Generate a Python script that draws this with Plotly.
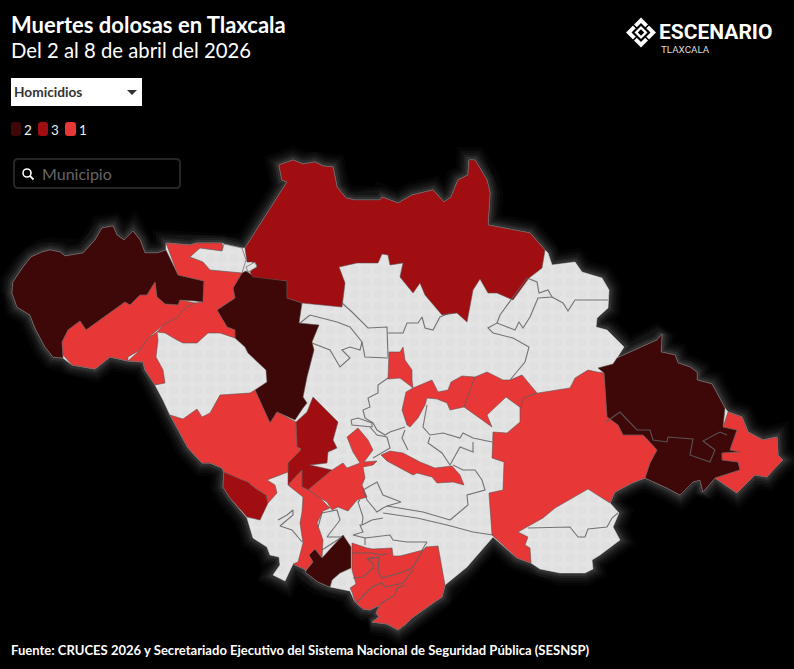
import plotly.graph_objects as go

# municipio outlines, traced in map units, grouped by homicide count
contorno = [(12,293),(13,282),(23,267),(31,257),(42,252),(50,250),(60,252),(65,256),(83,253),(95,240),(102,228),(113,226),(117,235),(124,240),(133,231),(140,240),(145,253),(157,253),(166,250),(166,243),(190,245),(197,243),(222,243),(224,244),(242,248),(245,248),(287,182),(282,180),(279,165),(293,160),(303,164),(315,162),(323,166),(333,167),(337,187),(346,198),(355,200),(380,200),(382,197),(398,203),(412,195),(433,190),(444,202),(451,197),(458,180),(468,175),(469,160),(475,160),(487,180),(490,193),(488,225),(530,233),(545,250),(548,253),(552,265),(575,262),(582,272),(602,278),(609,290),(608,308),(597,318),(596,327),(607,330),(624,347),(617,358),(657,340),(662,334),(661,352),(675,355),(678,363),(690,367),(697,372),(697,380),(712,384),(725,408),(728,412),(742,417),(748,432),(763,440),(777,437),(778,455),(783,460),(773,470),(767,477),(755,475),(737,493),(725,485),(715,478),(703,492),(700,480),(693,482),(680,495),(667,488),(645,478),(632,483),(615,492),(610,503),(619,513),(613,527),(620,540),(600,555),(592,560),(593,569),(585,573),(560,573),(540,569),(531,563),(517,558),(493,537),(477,555),(467,567),(445,585),(442,597),(433,603),(412,618),(407,623),(398,630),(387,624),(372,622),(379,617),(376,613),(380,605),(370,610),(363,609),(355,602),(350,591),(330,587),(318,582),(305,572),(306,570),(293,564),(285,581),(273,575),(280,565),(279,557),(270,555),(267,547),(253,538),(247,518),(230,498),(223,487),(224,472),(222,468),(210,463),(202,463),(188,448),(170,415),(163,400),(155,385),(145,370),(143,362),(128,361),(110,357),(95,369),(72,365),(63,358),(53,357),(45,347),(35,328),(30,315),(17,307),(12,293)]

# dos homicidios
mun_a = [(12,293),(13,282),(23,267),(31,257),(42,252),(50,250),(60,252),(65,256),(83,253),(95,240),(102,228),(113,226),(117,235),(124,240),(133,231),(140,240),(145,253),(157,253),(166,250),(178,275),(204,281),(203,302),(195,301),(180,300),(178,305),(165,304),(157,297),(155,282),(147,295),(140,295),(130,305),(125,302),(86,330),(80,321),(68,330),(62,342),(63,358),(53,357),(45,347),(35,328),(30,315),(17,307),(12,293)]
mun_j = [(242,273),(246,271),(252,275),(287,281),(287,298),(302,303),(299,323),(319,325),(312,342),(314,350),(307,377),(303,397),(307,403),(303,408),(295,420),(277,412),(270,423),(255,390),(267,382),(266,370),(248,353),(245,347),(235,338),(235,330),(227,327),(217,310),(235,298),(233,288),(242,273)]
mun_n = [(598,368),(613,364),(617,358),(657,340),(662,334),(661,352),(675,355),(678,363),(690,367),(697,372),(697,380),(712,384),(725,408),(723,427),(737,430),(730,450),(740,452),(722,453),(722,460),(738,462),(740,470),(715,478),(703,492),(700,480),(693,482),(680,495),(667,488),(645,478),(650,463),(657,450),(643,435),(623,435),(618,425),(607,417),(604,373),(598,368)]
mun_s = [(309,555),(315,549),(322,558),(343,535),(351,547),(351,568),(340,573),(332,580),(330,587),(318,582),(305,572),(313,562),(309,555)]

# tres homicidios
mun_k = [(245,248),(287,182),(282,180),(279,165),(293,160),(303,164),(315,162),(323,166),(333,167),(337,187),(346,198),(355,200),(380,200),(382,197),(398,203),(412,195),(433,190),(444,202),(451,197),(458,180),(468,175),(469,160),(475,160),(487,180),(490,193),(488,225),(530,233),(545,250),(542,268),(529,278),(513,300),(497,293),(488,293),(480,279),(473,290),(467,322),(457,313),(442,315),(425,295),(420,283),(413,293),(400,277),(403,263),(390,265),(388,255),(382,254),(378,263),(370,263),(357,263),(339,267),(345,283),(342,307),(302,303),(287,298),(287,281),(253,277),(250,272),(257,265),(252,262),(247,262),(245,248)]
mun_p = [(313,397),(338,422),(333,440),(337,448),(328,452),(327,463),(310,465),(332,470),(308,490),(302,487),(302,470),(288,485),(288,463),(301,449),(297,447),(296,422),(307,412),(313,397)]
mun_i = [(224,472),(242,480),(248,482),(255,488),(266,495),(268,503),(260,520),(247,517),(230,498),(223,487),(224,472)]

# un homicidio
mun_b = [(155,282),(157,297),(165,304),(178,305),(180,300),(195,303),(185,308),(177,318),(163,325),(148,338),(140,350),(128,357),(128,361),(110,357),(95,369),(72,365),(63,355),(62,342),(68,330),(80,321),(86,330),(125,302),(130,305),(140,295),(147,295),(155,282)]
mun_c = [(166,243),(190,245),(197,243),(222,243),(224,252),(242,273),(233,288),(235,298),(217,310),(227,327),(235,330),(235,338),(220,333),(208,333),(197,343),(183,343),(177,340),(165,333),(157,332),(163,325),(177,318),(185,308),(195,303),(203,302),(204,281),(178,275),(166,243)]
mun_f = [(128,361),(140,350),(148,338),(157,332),(158,340),(156,357),(163,370),(165,383),(155,385),(145,370),(143,362),(128,361)]
mun_h = [(170,415),(183,419),(197,409),(202,417),(210,413),(220,395),(250,393),(255,390),(270,423),(277,412),(296,422),(297,447),(301,450),(288,463),(288,472),(267,480),(275,485),(277,493),(268,503),(266,495),(255,488),(248,482),(242,480),(224,472),(222,468),(210,463),(202,463),(188,448),(170,415)]
mun_l = [(597,372),(588,370),(575,378),(570,388),(538,393),(522,398),(520,407),(520,422),(507,433),(493,432),(492,458),(504,462),(503,490),(489,493),(492,535),(517,558),(531,563),(530,548),(525,545),(528,537),(518,532),(527,527),(535,523),(543,518),(555,508),(572,498),(588,489),(610,503),(615,492),(632,483),(645,478),(650,463),(657,450),(643,435),(623,435),(618,425),(607,417),(604,373),(597,372)]
mun_o = [(728,412),(742,417),(748,432),(763,440),(777,437),(778,455),(783,460),(773,470),(767,477),(755,475),(737,493),(725,485),(715,478),(740,470),(738,462),(722,460),(722,453),(740,452),(730,450),(737,430),(723,427),(728,412)]
mun_q = [(358,428),(368,440),(373,450),(364,462),(377,461),(373,465),(363,467),(365,478),(362,485),(367,497),(357,500),(348,511),(338,507),(332,510),(327,502),(320,498),(308,490),(332,470),(343,463),(347,468),(360,463),(353,452),(347,437),(358,428)]
mun_r = [(288,485),(302,470),(302,487),(308,490),(320,498),(330,508),(323,511),(317,523),(323,540),(322,558),(315,549),(309,555),(313,562),(306,570),(293,564),(298,562),(303,543),(300,523),(302,512),(303,497),(288,485)]
mun_t = [(352,543),(367,548),(373,549),(392,548),(393,556),(400,556),(423,550),(426,547),(438,546),(440,558),(445,585),(442,597),(433,603),(412,618),(407,623),(398,630),(387,624),(372,622),(379,617),(376,613),(380,605),(370,610),(363,609),(355,602),(352,592),(350,588),(356,584),(352,570),(352,543)]
mun_w = [(389,352),(400,352),(403,347),(405,360),(412,370),(412,380),(413,388),(400,378),(388,379),(389,352)]
mun_x = [(406,392),(413,388),(432,380),(438,392),(448,390),(451,382),(462,376),(475,377),(464,407),(450,410),(447,403),(437,399),(427,398),(425,405),(418,418),(410,427),(407,425),(402,410),(406,392)]
mun_y = [(475,377),(487,372),(503,380),(510,380),(522,375),(537,393),(523,398),(521,408),(506,397),(495,408),(487,415),(492,427),(464,407),(475,377)]
mun_aa = [(390,451),(403,453),(420,462),(435,468),(452,466),(460,475),(464,485),(453,482),(437,483),(432,477),(417,473),(413,475),(400,468),(387,461),(381,455),(390,451)]

# gray municipios that sit on top of a colored one
mun_d = [(190,257),(200,248),(222,251),(224,244),(242,248),(246,260),(242,273),(210,270),(203,262),(190,257)]
mun_tab = [(246,267),(255,262),(257,267),(248,272),(246,267)]

nombres_2 = [mun_a, mun_j, mun_n, mun_s]
nombres_3 = [mun_k, mun_p, mun_i]
nombres_1 = [mun_b, mun_c, mun_f, mun_h, mun_l, mun_o, mun_q, mun_r, mun_t, mun_w, mun_x, mun_y, mun_aa]
sin_casos = [mun_d, mun_tab]

# borders between municipios
limites = [
    [(342,303),(352,312),(368,328),(387,327),(388,357)],
    [(388,333),(403,333),(407,323),(418,323),(422,317),(425,328),(433,330),(440,317),(450,313)],
    [(300,323),(310,315),(337,322),(350,327),(362,342),(365,357),(388,358)],
    [(312,343),(330,350),(340,367),(350,358),(342,350),(350,347),(360,350),(362,342)],
    [(388,378),(378,385),(378,393),(368,398),(370,407),(363,410),(365,418),(373,423),(377,430),(385,435),(390,432),(405,427)],
    [(351,420),(358,418),(372,423),(372,427),(352,425),(351,420)],
    [(370,427),(377,435),(387,437),(390,448),(373,458)],
    [(405,430),(402,438),(408,450)],
    [(427,405),(423,427),(430,435),(443,433),(460,438),(463,433),(473,438),(492,442)],
    [(430,437),(428,443),(442,453),(450,465),(460,447),(473,452),(473,442)],
    [(453,465),(463,470),(475,470),(482,480),(485,490),(467,495),(468,505),(450,520)],
    [(383,508),(387,506),(423,512),(450,520)],
    [(383,513),(417,518),(447,525),(473,532),(493,535)],
    [(360,500),(358,502),(363,517),(362,525),(372,520),(383,518)],
    [(367,500),(377,512),(383,508)],
    [(367,500),(363,490),(377,482),(383,495),(401,502),(387,506)],
    [(362,525),(360,525),(363,532),(353,535),(365,538),(365,545)],
    [(365,538),(390,535),(393,540),(407,542),(427,542),(422,550)],
    [(352,553),(370,553),(383,555),(388,553)],
    [(373,557),(367,559),(373,563),(373,568),(363,577),(353,578)],
    [(368,559),(379,557),(378,572),(382,578),(400,573),(412,568),(423,550)],
    [(356,603),(372,587),(382,583),(385,587),(403,583),(413,570)],
    [(380,604),(395,595),(397,588),(405,585)],
    [(278,520),(287,515),(293,510),(293,515),(280,526),(292,530),(302,542)],
    [(318,527),(322,513),(337,510),(340,520),(327,537),(342,537),(322,550)],
    [(528,528),(570,527),(578,537),(585,537),(588,529),(607,527),(612,518),(618,513)],
    [(527,278),(537,282),(539,293),(548,290),(552,297),(538,298),(530,317),(523,328),(519,322),(515,330),(497,323),(488,328),(493,333),(513,338),(529,347),(525,362),(510,380)],
    [(552,297),(563,303),(568,311),(575,300),(608,300)],
    [(527,278),(500,315),(497,323)],
    [(606,422),(620,412),(637,430),(650,430),(653,440),(667,442),(668,437),(693,439),(690,455),(710,462),(715,450),(703,441),(720,432),(727,435)],
]

COLORES = {2: "#3d0807", 3: "#a00e12", 1: "#e73737"}
GRIS = "#e2e2e2"
LINEA = "rgba(95,95,95,0.85)"
TRAMA = dict(shape=".", fgcolor="#dcdcdc", bgcolor="#e4e4e4", size=12, solidity=0.5)

leyenda = [2, 3, 1]
titulo = "Muertes dolosas en Tlaxcala"
subtitulo = "Del 2 al 8 de abril del 2026"
fuente = "Fuente: CRUCES 2026 y Secretariado Ejecutivo del Sistema Nacional de Seguridad Pública (SESNSP)"


def xs(p):
    return [c[0] for c in p]


def ys(p):
    return [c[1] for c in p]


fig = go.Figure()

# soft halo around the state, path overlaps its start so the seam does not show
halo = contorno + contorno[1:3]
for w, a in [(26, 0.02), (20, 0.03), (15, 0.04), (10, 0.055), (6, 0.07)]:
    fig.add_trace(go.Scatter(x=xs(halo), y=ys(halo), mode="lines",
                             line=dict(color=f"rgba(255,255,255,{a})", width=w),
                             hoverinfo="skip"))

fig.add_trace(go.Scatter(x=xs(contorno), y=ys(contorno), mode="lines", fill="toself",
                         line=dict(color=GRIS, width=0.5), fillcolor=GRIS,
                         fillpattern=TRAMA, hoverinfo="skip"))

for valor, grupo in [(2, nombres_2), (3, nombres_3), (1, nombres_1)]:
    for p in grupo:
        fig.add_trace(go.Scatter(x=xs(p), y=ys(p), mode="lines", fill="toself",
                                 fillcolor=COLORES[valor],
                                 line=dict(color="rgba(90,80,80,0.7)", width=0.8),
                                 hoverinfo="text", text=f"Homicidios: {valor}"))

for p in sin_casos:
    fig.add_trace(go.Scatter(x=xs(p), y=ys(p), mode="lines", fill="toself", fillcolor=GRIS,
                             line=dict(color=LINEA, width=0.8),
                             fillpattern=TRAMA, hoverinfo="skip"))

for p in limites:
    fig.add_trace(go.Scatter(x=xs(p), y=ys(p), mode="lines",
                             line=dict(color=LINEA, width=1.1), hoverinfo="skip"))


def texto(x, y, s, size, color="#ffffff", family="Lato", weight=None, anchor="left"):
    fig.add_annotation(x=x, y=y, text=s, showarrow=False, xanchor=anchor, yanchor="middle",
                       xref="x", yref="y", align="left",
                       font=dict(size=size, color=color, family=family, weight=weight))


texto(9, 24.5, titulo, 22, weight=700)
texto(9, 49.5, subtitulo, 20.3)
texto(9, 650, fuente, 13.05, weight=700)

formas = []


def redondo(x0, y0, x1, y1, r):
    return (f"M{x0+r},{y0} L{x1-r},{y0} Q{x1},{y0} {x1},{y0+r} L{x1},{y1-r} Q{x1},{y1} {x1-r},{y1} "
            f"L{x0+r},{y1} Q{x0},{y1} {x0},{y1-r} L{x0},{y0+r} Q{x0},{y0} {x0+r},{y0} Z")


def rombo(cx, cy, r):
    return f"M{cx-r},{cy} L{cx},{cy-r} L{cx+r},{cy} L{cx},{cy+r} Z"


# dropdown
formas.append(dict(type="rect", x0=11, x1=142, y0=78, y1=106, fillcolor="#ffffff", line=dict(width=0)))
formas.append(dict(type="path", path="M127,90 L137,90 L132,95 Z", fillcolor="#333333", line=dict(width=0)))
texto(12, 91.5, "Homicidios", 13.7, color="#333333", weight=700)

# legend chips
for x0, x1, valor in [(11, 21, 2), (38, 48, 3), (65, 76, 1)]:
    formas.append(dict(type="path", path=redondo(x0, 122, x1, 136, 3), fillcolor=COLORES[valor], line=dict(width=0)))
    texto(x1 + 0.5, 129.5, str(valor), 13.5, color="#eeeeee")

# search box
formas.append(dict(type="path", path=redondo(14, 159, 180, 188, 4), fillcolor="rgba(0,0,0,0)", line=dict(color="#262626", width=2)))
formas.append(dict(type="circle", x0=23, x1=31, y0=169, y1=177, line=dict(color="#ffffff", width=1.6)))
formas.append(dict(type="line", x0=30, x1=33.5, y0=176, y1=179.5, line=dict(color="#ffffff", width=1.8)))
texto(39.5, 173, "Municipio", 16, color="#666666")

# logo mark
cx, cy = 641, 32.5
formas.append(dict(type="path", path=rombo(cx, cy, 15), fillcolor="#ffffff", line=dict(width=0)))
formas.append(dict(type="path", path=rombo(cx, cy, 9.5), fillcolor="#000000", line=dict(width=0)))
for sx, sy in [(1, 1), (1, -1), (-1, 1), (-1, -1)]:
    formas.append(dict(type="line", x0=cx+sx*3, y0=cy+sy*3, x1=cx+sx*9, y1=cy+sy*9, line=dict(color="#000000", width=1.6)))
formas.append(dict(type="path", path=rombo(cx, cy, 6.5), fillcolor="#ffffff", line=dict(width=0)))
formas.append(dict(type="path", path=rombo(cx, cy, 3.2), fillcolor="#000000", line=dict(width=0)))
texto(657, 32, "ESCENARIO", 21, family="Roboto", weight=700)
texto(659, 49.5, "TLAXCALA", 9.8, color="#dddddd", family="Roboto")

fig.update_layout(
    width=794, height=669, showlegend=False, shapes=formas,
    margin=dict(l=0, r=0, t=0, b=0), paper_bgcolor="#000000", plot_bgcolor="#000000",
    xaxis=dict(range=[0, 794], visible=False, fixedrange=True),
    yaxis=dict(range=[669, 0], visible=False, fixedrange=True),
)

fig.write_html("out.html", config=dict(displayModeBar=False),
               post_script="document.body.style.margin='0';document.body.style.background='#000';")
